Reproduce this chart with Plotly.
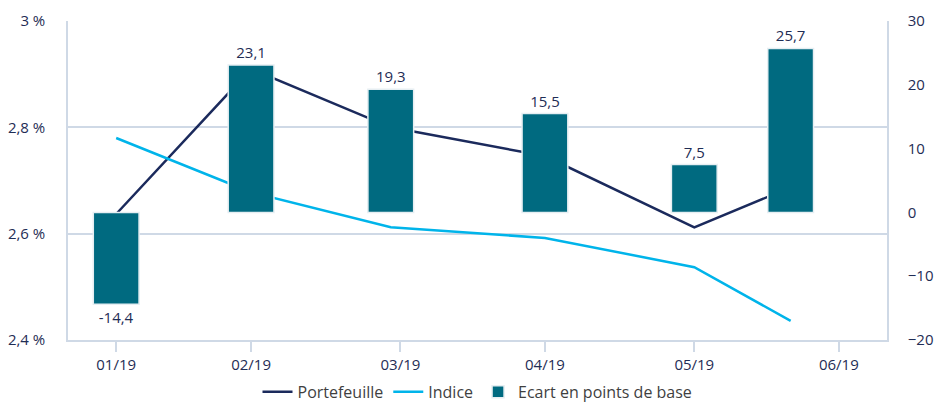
import plotly.graph_objects as go

dates = ["2019-01-31", "2019-02-28", "2019-03-29", "2019-04-30", "2019-05-31", "2019-06-20"]
portefeuille = [2.637, 2.91, 2.80, 2.746, 2.612, 2.687]
indice = [2.78, 2.678, 2.612, 2.592, 2.537, 2.436]
ecart = [-14.4, 23.1, 19.3, 15.5, 7.5, 25.7]

tick_dates = ["2019-01-31", "2019-02-28", "2019-03-31", "2019-04-30", "2019-05-31", "2019-06-30"]
tick_labels = ["01/19", "02/19", "03/19", "04/19", "05/19", "06/19"]
left_vals = [2.4, 2.6, 2.8, 3.0]
left_text = ["2,4 %", "2,6 %", "2,8 %", "3 %"]
right_vals = [-20, -10, 0, 10, 20, 30]

NAVY = "#1b2a5c"
LIGHT = "#00b4ea"
TEAL = "#006a80"
GRID = "#cfd9e6"
TXT = "#1f2d55"
FONT = "Open Sans"

fig = go.Figure()
fig.add_trace(go.Scatter(x=dates, y=portefeuille, name="Portefeuille", mode="lines",
                         line=dict(color=NAVY, width=2.5), yaxis="y"))
fig.add_trace(go.Scatter(x=dates, y=indice, name="Indice", mode="lines",
                         line=dict(color=LIGHT, width=2.5), yaxis="y"))
fig.add_trace(go.Bar(x=dates, y=ecart, name="Ecart en points de base", yaxis="y2",
                     marker=dict(color=TEAL, line=dict(color="#e6eef2", width=1.5)),
                     width=[9.5 * 86400000] * len(dates),
                     texttemplate="%{y:.1f}", textposition="outside",
                     textfont=dict(color=TXT, size=15, family=FONT), cliponaxis=False))

fig.update_layout(
    width=934, height=406,
    margin=dict(l=68, r=47, t=21, b=66, autoexpand=False),
    paper_bgcolor="white", plot_bgcolor="white",
    separators=", ",
    font=dict(family=FONT, size=15, color=TXT),
    showlegend=True,
    legend=dict(orientation="h", x=0.5, xanchor="center", xref="paper",
                y=0.035, yanchor="middle", yref="container",
                font=dict(color="#3f3f3f", size=16, family=FONT), itemwidth=30,
                traceorder="normal"),
    xaxis=dict(type="date", range=["2019-01-21", "2019-07-10"],
               tickvals=tick_dates, ticktext=tick_labels, automargin=False,
               showgrid=False, showline=True, linecolor=GRID, linewidth=1.5,
               ticks="outside", ticklen=10, tickcolor=GRID, tickwidth=1.5,
               tickfont=dict(color=TXT, size=15), zeroline=False),
    yaxis=dict(range=[2.4, 3.0], tickvals=left_vals, ticktext=left_text,
               showgrid=True, gridcolor=GRID, gridwidth=1.5, automargin=False,
               showline=True, linecolor=GRID, linewidth=1.5,
               zeroline=False, ticks="", ticklabelstandoff=18,
               tickfont=dict(color=TXT, size=15)),
    yaxis2=dict(range=[-20, 30], tickvals=right_vals, overlaying="y", side="right",
                showgrid=False, showline=True, linecolor=GRID, linewidth=1.5,
                zeroline=False, ticks="", ticklabelstandoff=16, automargin=False,
                tickfont=dict(color=TXT, size=15)),
)

fig.write_html("out.html")
